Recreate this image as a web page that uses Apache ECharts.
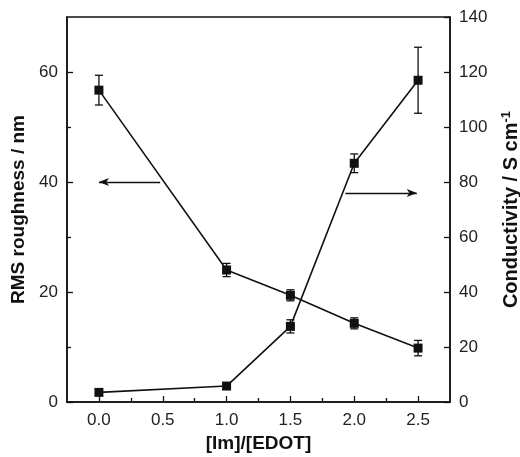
<!DOCTYPE html>
<html>
<head>
<meta charset="utf-8">
<script src="https://cdn.jsdelivr.net/npm/echarts@6/dist/echarts.min.js"></script>
<style>
  html, body { margin: 0; padding: 0; background: #fff; }
  #chart { width: 520px; height: 457px; }
</style>
</head>
<body>
<div id="chart"></div>
<script>
const ratio = [0, 1.0, 1.5, 2.0, 2.5]
const roughness = [56.7, 24.0, 19.4, 14.3, 9.8]
const roughnessErr = [2.7, 1.2, 1.0, 1.0, 1.4]
const conductivity = [3.5, 5.8, 27.5, 86.8, 117]
const conductivityErr = [1.0, 1.0, 2.4, 3.4, 12]
const xLabels = [0, 0.5, 1.0, 1.5, 2.0, 2.5]
const xMinorTicks = [0.25, 0.75, 1.25, 1.75, 2.25]
const leftLabels = [0, 20, 40, 60]
const leftMinorTicks = [10, 30, 50]
// arrows: [x from, x to, y] in data units
const leftArrow = [0.48, 0.0, 40]
const rightArrow = [1.93, 2.49, 76]

const font = 'Liberation Sans, Arial, sans-serif'
const black = '#111'

function errRender (params, api) {
  const x = api.value(0)
  const lo = api.coord([x, api.value(1)])
  const hi = api.coord([x, api.value(2)])
  const w = 4
  const st = { stroke: black, lineWidth: 1.3 }
  return {
    type: 'group',
    children: [
      { type: 'line', shape: { x1: lo[0], y1: lo[1], x2: hi[0], y2: hi[1] }, style: st },
      { type: 'line', shape: { x1: lo[0] - w, y1: lo[1], x2: lo[0] + w, y2: lo[1] }, style: st },
      { type: 'line', shape: { x1: hi[0] - w, y1: hi[1], x2: hi[0] + w, y2: hi[1] }, style: st }
    ]
  }
}

function arrowLine (a) {
  return [{ coord: [a[0], a[2]] }, { coord: [a[1], a[2]] }]
}

const axisBase = {
  type: 'value',
  axisLine: { show: true, onZero: false, lineStyle: { color: black, width: 1.5 } },
  axisTick: { show: true, inside: true, length: 6, lineStyle: { color: black, width: 1.3 } },
  splitLine: { show: false },
  axisLabel: { color: '#222', fontSize: 17, fontFamily: font, margin: 9 },
  nameTextStyle: { color: black, fontSize: 19, fontWeight: 'bold', fontFamily: font }
}
const hiddenLine = { show: false, onZero: false }

const chart = echarts.init(document.getElementById('chart'))
chart.setOption({
  backgroundColor: '#fff',
  animation: false,
  grid: {
    left: 67, right: 70, top: 17, bottom: 55,
    outerBoundsMode: 'none', containLabel: false,
    show: true, borderColor: black, borderWidth: 1.5
  },
  xAxis: [
    Object.assign({}, axisBase, {
      min: -0.25, max: 2.75,
      name: '[Im]/[EDOT]', nameLocation: 'middle', nameGap: 30,
      axisTick: Object.assign({}, axisBase.axisTick, { customValues: xLabels }),
      axisLabel: Object.assign({}, axisBase.axisLabel, {
        customValues: xLabels, margin: 10,
        formatter: v => v.toFixed(1)
      })
    }),
    Object.assign({}, axisBase, {
      min: -0.25, max: 2.75, position: 'bottom',
      axisLine: hiddenLine,
      axisTick: Object.assign({}, axisBase.axisTick, { length: 4, customValues: xMinorTicks }),
      axisLabel: { show: false }
    })
  ],
  yAxis: [
    Object.assign({}, axisBase, {
      min: 0, max: 70, position: 'left',
      name: 'RMS roughness / nm', nameLocation: 'middle', nameGap: 36, nameRotate: 90,
      axisTick: Object.assign({}, axisBase.axisTick, { customValues: leftLabels }),
      axisLabel: Object.assign({}, axisBase.axisLabel, { customValues: leftLabels })
    }),
    Object.assign({}, axisBase, {
      min: 0, max: 140, interval: 20, position: 'right',
      name: '{n|Conductivity / S cm}{s|-1}', nameLocation: 'middle', nameGap: 50, nameRotate: 90,
      nameTextStyle: {
        rich: {
          n: { color: black, fontSize: 20, fontWeight: 'bold', fontFamily: font, lineHeight: 22 },
          s: { color: black, fontSize: 13, fontWeight: 'bold', fontFamily: font, verticalAlign: 'top', lineHeight: 22 }
        }
      }
    }),
    Object.assign({}, axisBase, {
      min: 0, max: 70, position: 'left',
      axisLine: hiddenLine,
      axisTick: Object.assign({}, axisBase.axisTick, { length: 4, customValues: leftMinorTicks }),
      axisLabel: { show: false }
    })
  ],
  series: [
    {
      name: 'RMS roughness',
      type: 'line',
      xAxisIndex: 0, yAxisIndex: 0,
      data: ratio.map((x, i) => [x, roughness[i]]),
      symbol: 'rect', symbolSize: 9,
      itemStyle: { color: black },
      lineStyle: { color: black, width: 1.6 },
      z: 3,
      markLine: {
        silent: true, symbol: ['none', 'arrow'], symbolSize: [6, 10],
        label: { show: false },
        lineStyle: { color: black, width: 1.4, type: 'solid' },
        data: [arrowLine(leftArrow)]
      }
    },
    {
      name: 'Conductivity',
      type: 'line',
      xAxisIndex: 0, yAxisIndex: 1,
      data: ratio.map((x, i) => [x, conductivity[i]]),
      symbol: 'rect', symbolSize: 9,
      itemStyle: { color: black },
      lineStyle: { color: black, width: 1.6 },
      z: 3,
      markLine: {
        silent: true, symbol: ['none', 'arrow'], symbolSize: [6, 10],
        label: { show: false },
        lineStyle: { color: black, width: 1.4, type: 'solid' },
        data: [arrowLine(rightArrow)]
      }
    },
    {
      type: 'custom',
      xAxisIndex: 0, yAxisIndex: 0,
      renderItem: errRender,
      data: ratio.map((x, i) => [x, roughness[i] - roughnessErr[i], roughness[i] + roughnessErr[i]]),
      z: 2
    },
    {
      type: 'custom',
      xAxisIndex: 0, yAxisIndex: 1,
      renderItem: errRender,
      data: ratio.map((x, i) => [x, conductivity[i] - conductivityErr[i], conductivity[i] + conductivityErr[i]]),
      z: 2
    }
  ]
})
</script>
</body>
</html>
